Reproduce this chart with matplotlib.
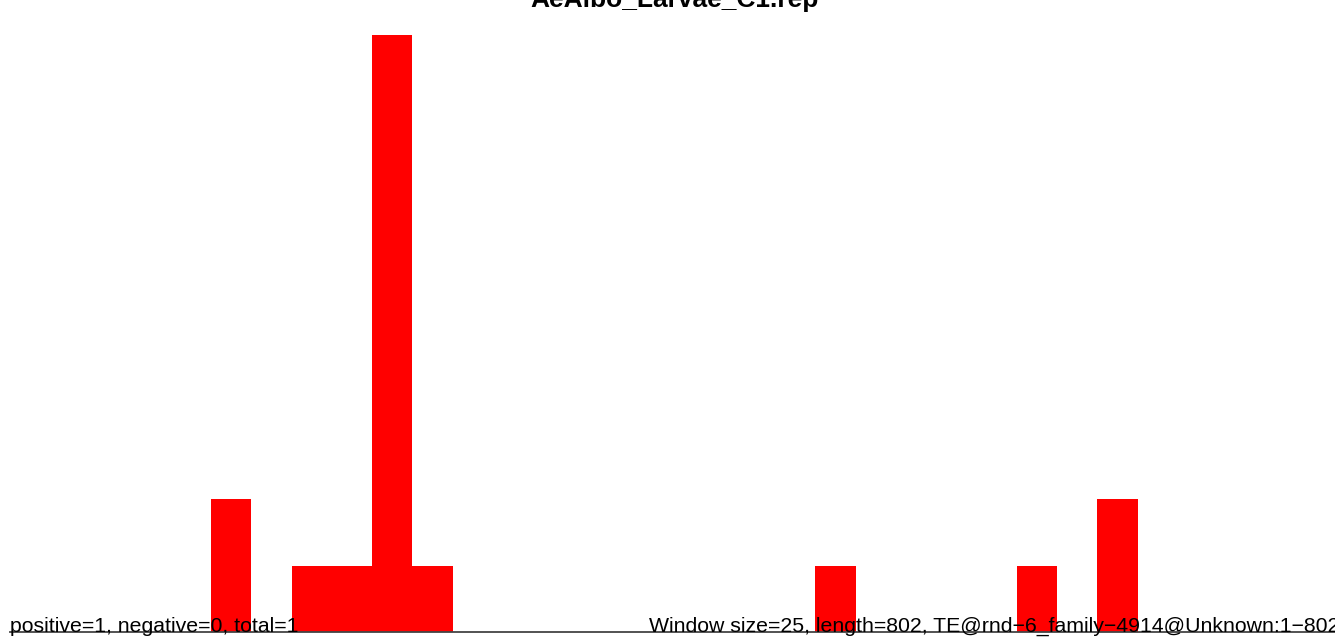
import numpy as np
import matplotlib.pyplot as plt

plt.rcParams['font.family'] = ['Liberation Sans', 'DejaVu Sans']

# counts per window (window size 25 over 802 bp -> 33 windows)
counts = [0, 0, 0, 0, 0, 2, 0, 1, 1, 9, 1, 0, 0, 0, 0, 0, 0,
          0, 0, 0, 1, 0, 0, 0, 0, 1, 0, 2, 0, 0, 0, 0, 0]
title = "AeAlbo_Larvae_C1.rep"
left_note = "positive=1, negative=0, total=1"
right_note = "Window size=25, length=802, TE@rnd\u22126_family\u22124914@Unknown:1\u2212802"

n_win = len(counts)
idx = np.arange(n_win)

fig = plt.figure(figsize=(13.35, 6.37), dpi=100)
ax = fig.add_axes([0, 0, 1, 1])
ax.bar(idx, counts, width=1.0, align='edge', color='#ff0000', linewidth=0)
ax.plot([0, n_win], [0, 0], color='#444444', linewidth=1.3)

ax.set_xlim(-0.236, 32.9)
ax.set_ylim(-0.075, 9.53)
ax.axis('off')

ax.text(0, 0, left_note, ha='left', va='baseline', fontsize=15.3)
ax.text(n_win, 0, right_note, ha='right', va='baseline', fontsize=15.3)
# title sits mostly above the top edge, as in the original
ax.text(n_win / 2, 9.42, title, ha='center', va='baseline', fontsize=19,
        fontweight='bold')

fig.savefig('out.png', dpi=100)
